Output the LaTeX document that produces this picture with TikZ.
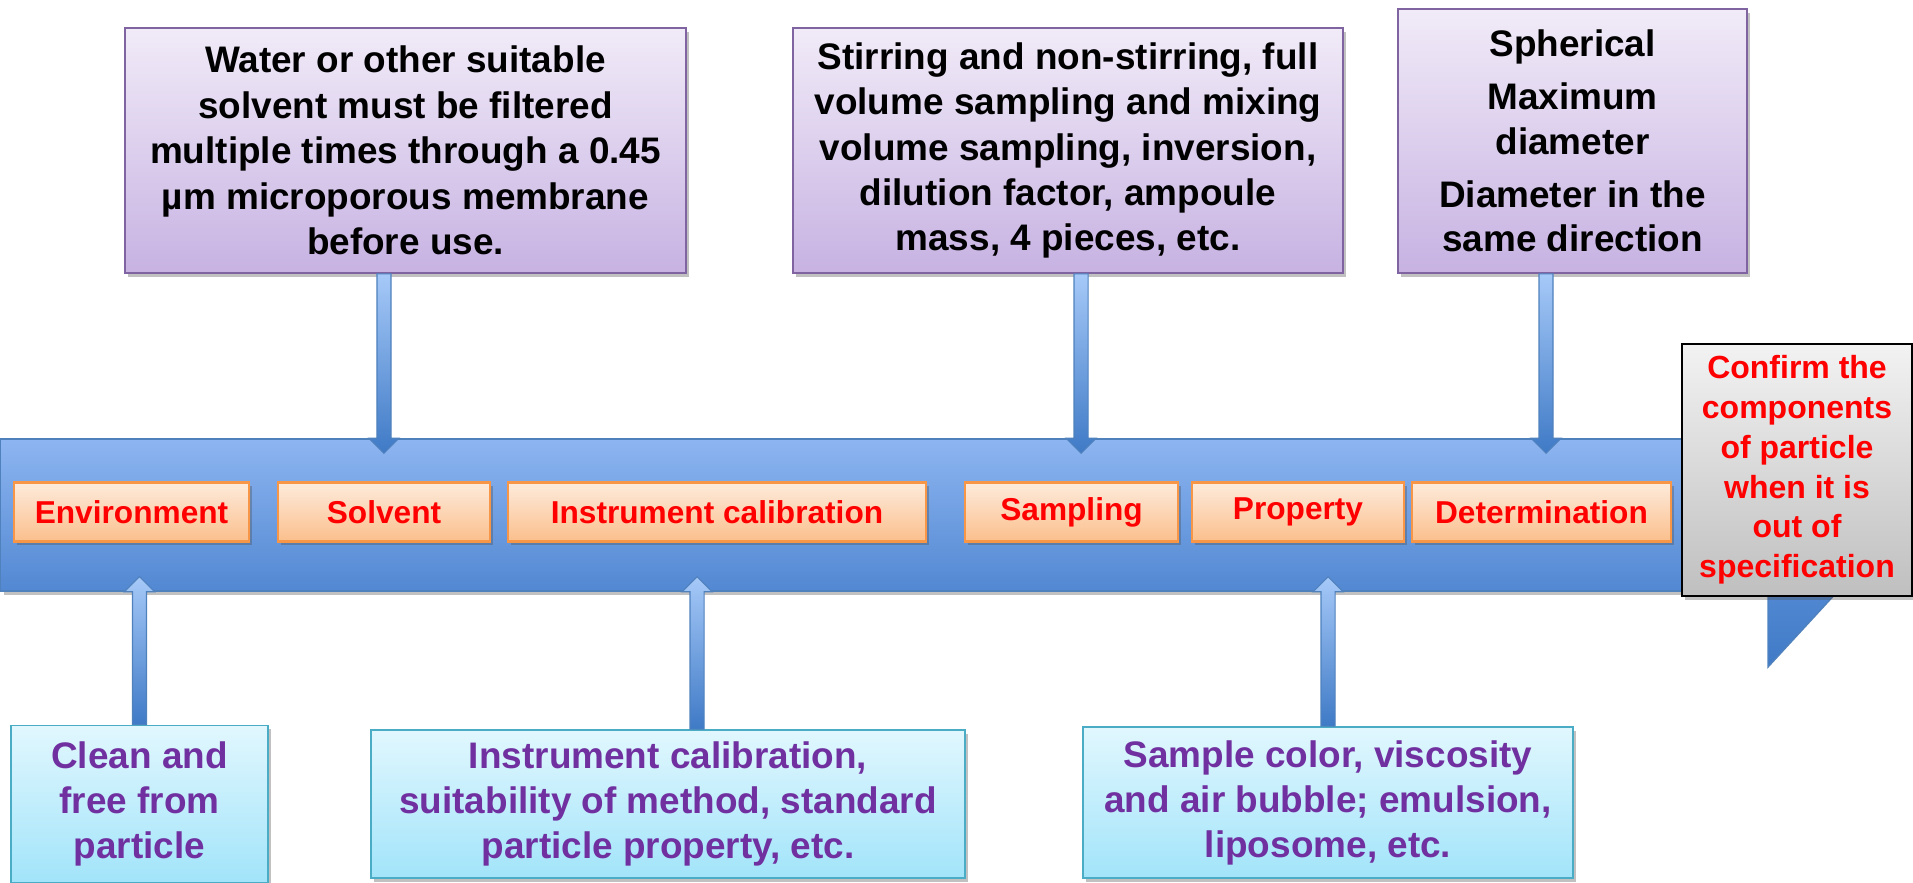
\documentclass[tikz,border=0pt]{standalone}
\usepackage{fontspec}
\setmainfont{Liberation Sans}
\usepackage{tikz}
\usetikzlibrary{calc, shadows}

\definecolor{bartop}{HTML}{8DB5F1}
\definecolor{barbot}{HTML}{5288D2}
\definecolor{baredge}{HTML}{4F81BD}
\definecolor{stagetop}{HTML}{FDEBDC}
\definecolor{stagebot}{HTML}{FBBF8C}
\definecolor{stageedge}{HTML}{F79646}
\definecolor{uptop}{HTML}{F1EBF8}
\definecolor{upbot}{HTML}{C7B2E2}
\definecolor{upedge}{HTML}{8064A2}
\definecolor{lowtop}{HTML}{E1F7FE}
\definecolor{lowbot}{HTML}{A2E4FA}
\definecolor{lowedge}{HTML}{4BACC6}
\definecolor{lowtext}{HTML}{7030A0}
\definecolor{flowtop}{HTML}{A6C9F8}
\definecolor{flowbot}{HTML}{3F7AC6}

\tikzset{
    softshadow/.style={drop shadow={shadow xshift=0.9pt, shadow yshift=-1.1pt, opacity=0.35, fill=black!70}},
    stage/.style={draw=stageedge, line width=0.6pt, top color=stagetop, bottom color=stagebot,
        text=red, font=\bfseries\fontsize{9}{11}\selectfont,
        minimum height=0.59cm, inner sep=0pt, softshadow},
    upnote/.style={draw=upedge, line width=0.45pt, top color=uptop, bottom color=upbot,
        align=center, font=\bfseries\fontsize{10.5}{12.9}\selectfont,
        minimum height=2.45cm, inner sep=0pt, softshadow},
    lownote/.style={draw=lowedge, line width=0.45pt, top color=lowtop, bottom color=lowbot,
        text=lowtext, align=center, font=\bfseries\fontsize{10.5}{12.8}\selectfont,
        inner sep=0pt, softshadow},
    flowshade/.style={top color=flowtop, bottom color=flowbot, draw=baredge, line width=0.3pt}
}

% block arrow: start, edge it runs into, signed tip offset past that edge
\newcommand{\flowarrow}[3]{%
    \path[flowshade] let \p1=(#1), \p2=(#2) in
        (\x1-0.07cm,\y1) -- (\x1+0.07cm,\y1) -- (\x1+0.07cm,\y2)
        -- (\x1+0.15cm,\y2) -- (\x1,\y2#3) -- (\x1-0.15cm,\y2)
        -- (\x1-0.07cm,\y2) -- cycle;}

\begin{document}
\begin{tikzpicture}[x=0.01cm, y=-0.01cm]
    \useasboundingbox (0,0) rectangle (1913,883);

    % main bar with its pointer
    \node[draw=baredge, line width=0.4pt, top color=bartop, bottom color=barbot,
          minimum width=18.69cm, minimum height=1.52cm, inner sep=0pt, softshadow] (bar) at (935.5,515) {};
    \shade[top color=barbot, bottom color=flowbot, draw=baredge, line width=0.4pt]
        (1768,591) -- (1838,591) -- (1768,667) -- cycle;

    % stages on the bar
    \node[stage, minimum width=2.35cm] (env)   at (131.5,512) {Environment};
    \node[stage, minimum width=2.12cm] (solv)  at (384,512)   {Solvent};
    \node[stage, minimum width=4.18cm] (calib) at (717,512)   {Instrument calibration};
    \node[stage, minimum width=2.13cm] (samp)  at (1071.5,512) {Sampling};
    \node[stage, minimum width=2.12cm] (prop)  at (1298,512)  {Property};
    \node[stage, minimum width=2.59cm] (det)   at (1541.5,512) {Determination};

    % notes above
    \node[upnote, minimum width=5.61cm] (solvnote) at (405.5,150.5)
        {Water or other suitable\\solvent must be filtered\\multiple times through a 0.45\\µm microporous membrane\\before use.};
    \node[upnote, minimum width=5.50cm] (sampnote) at (1068,150.5)
        {Stirring and non-stirring, full\\volume sampling and mixing\\volume sampling, inversion,\\dilution factor, ampoule\\mass, 4 pieces, etc.};
    \node[upnote, minimum width=3.49cm, minimum height=2.64cm,
          font=\bfseries\fontsize{10.5}{12.6}\selectfont] (detnote) at (1572.5,141)
        {Spherical\\[2.6pt]Maximum\\diameter\\[2.6pt]Diameter in the\\same direction};

    % notes below
    \node[lownote, minimum width=2.57cm, minimum height=1.57cm] (envnote) at (139.5,804)
        {Clean and\\free from\\particle};
    \node[lownote, minimum width=5.94cm, minimum height=1.48cm] (calibnote) at (668,804)
        {Instrument calibration,\\suitability of method, standard\\particle property, etc.};
    \node[lownote, minimum width=4.90cm, minimum height=1.51cm] (propnote) at (1328,802.5)
        {Sample color, viscosity\\and air bubble; emulsion,\\liposome, etc.};

    % arrows into the bar
    \flowarrow{[xshift=-0.215cm]solvnote.south}{bar.north}{-0.15cm}
    \flowarrow{[xshift=0.13cm]sampnote.south}{bar.north}{-0.15cm}
    \flowarrow{[xshift=-0.265cm]detnote.south}{bar.north}{-0.15cm}
    \flowarrow{envnote.north}{bar.south}{+0.15cm}
    \flowarrow{[xshift=0.29cm]calibnote.north}{bar.south}{+0.15cm}
    \flowarrow{propnote.north}{bar.south}{+0.15cm}

    % out of specification
    \node[draw=black, line width=0.6pt, top color=black!5, bottom color=black!25,
          text=red, align=center, font=\bfseries\fontsize{9.1}{11.3}\selectfont,
          minimum width=2.3cm, minimum height=2.52cm, inner sep=0pt, softshadow] (oos) at (1797,470)
        {Confirm the\\components\\of particle\\when it is\\out of\\specification};
\end{tikzpicture}
\end{document}
